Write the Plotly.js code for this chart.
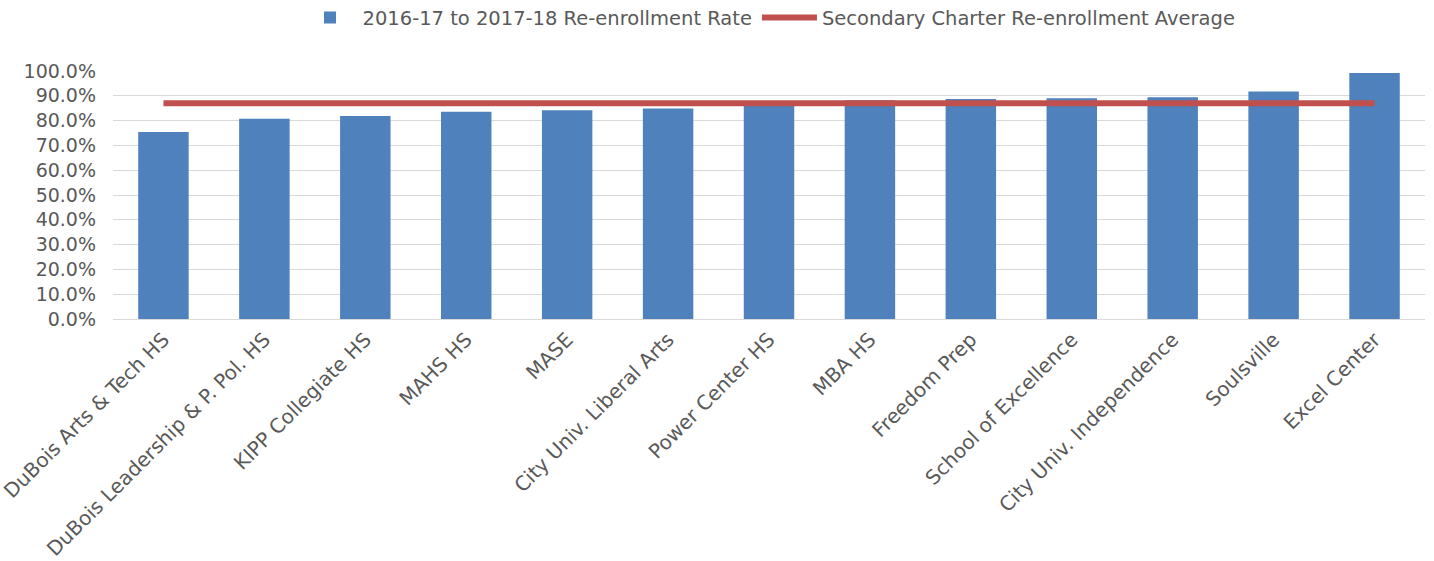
<!DOCTYPE html>
<html><head><meta charset="utf-8">
<script src="https://cdn.plot.ly/plotly-3.0.1.min.js"></script>
<style>body{margin:0;background:#fff}#chart{width:1434px;height:561px}</style>
</head><body><div id="chart"></div>
<script>
const schools = ["DuBois Arts & Tech HS","DuBois Leadership & P. Pol. HS","KIPP Collegiate HS","MAHS HS","MASE","City Univ. Liberal Arts","Power Center HS","MBA HS","Freedom Prep","School of Excellence","City Univ. Independence","Soulsville","Excel Center"];
const reenrollRate = [0.754,0.807,0.819,0.836,0.842,0.849,0.865,0.882,0.887,0.890,0.894,0.917,0.992];
const charterAverage = [0.870,0.870,0.870,0.870,0.870,0.870,0.870,0.870,0.870,0.870,0.870,0.870,0.870];
const yTicks = [0,0.1,0.2,0.3,0.4,0.5,0.6,0.7,0.8,0.9,1.0];
const font = "DejaVu Sans, sans-serif";
Plotly.newPlot('chart', [
  {type:'bar', x:schools, y:reenrollRate, name:'2016-17 to 2017-18 Re-enrollment Rate', marker:{color:'#4F81BD'}, width:0.5},
  {type:'scatter', mode:'lines', x:schools, y:charterAverage, name:'Secondary Charter Re-enrollment Average', line:{color:'#C0504D', width:6}}
], {
  width:1434, height:561,
  margin:{l:113, r:9, t:71, b:242, autoexpand:false},
  paper_bgcolor:'#fff', plot_bgcolor:'#fff',
  font:{family:font, size:19, color:'#595959'},
  showlegend:true,
  legend:{orientation:'h', x:0.5, xanchor:'center', y:1.214, yanchor:'middle', font:{size:19.5}, traceorder:'normal', itemwidth:55},
  xaxis:{tickangle:-45, showgrid:false, showline:true, linecolor:'#D9D9D9', linewidth:1, ticks:'', tickfont:{size:20}},
  yaxis:{range:[0,1.0], tickvals:yTicks, tickformat:'.1%', showgrid:true, gridcolor:'#D9D9D9', gridwidth:1, zeroline:false, showline:false, ticks:'', tickfont:{size:19}, ticklabelstandoff:16}
}, {displayModeBar:false});
</script></body></html>
